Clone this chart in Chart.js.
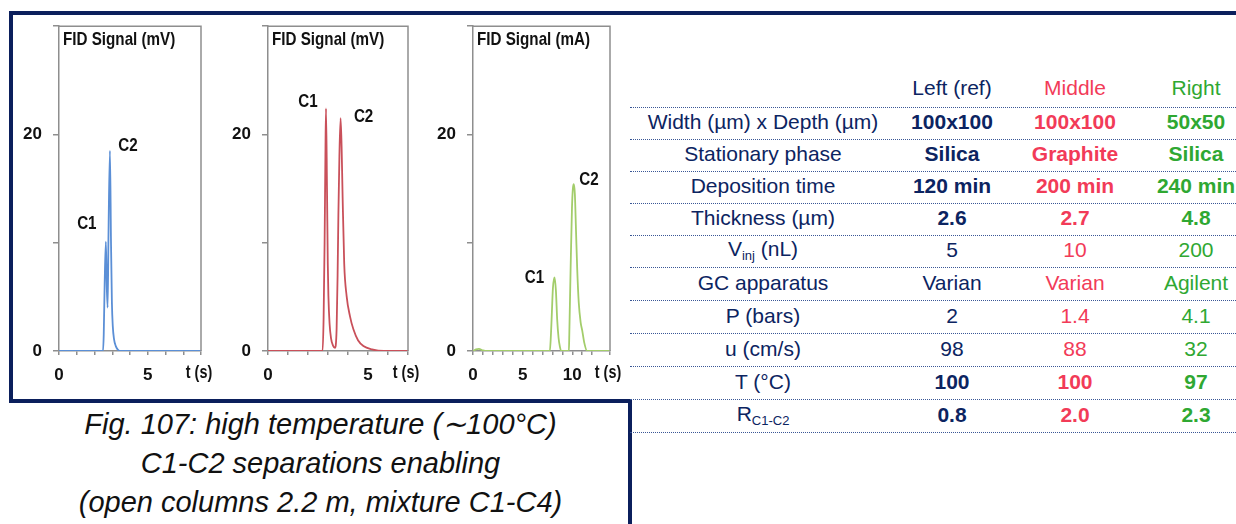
<!DOCTYPE html>
<html lang="en">
<head>
  <meta charset="UTF-8">
  <title>High temperature C1-C2 separations</title>
  <script src="https://cdn.jsdelivr.net/npm/chart.js"></script>
  <style>
    * { margin: 0; padding: 0; box-sizing: border-box; }

    body {
      width: 1236px;
      height: 524px;
      overflow: hidden;
      position: relative;
      background: #ffffff;
      font-family: Arial, 'Liberation Sans', sans-serif;
    }

    /* navy slide frame */
    .bar { position: absolute; background: #0b1f5c; }
    .bar.top    { left: 9px;   top: 11px;  width: 1227px; height: 4px; }
    .bar.left   { left: 9px;   top: 11px;  width: 4px;    height: 392px; }
    .bar.bottom { left: 9px;   top: 399px; width: 623px;  height: 4px; }
    .bar.right  { left: 628px; top: 399px; width: 4px;    height: 125px; }

    canvas { position: absolute; }

    /* parameter table */
    #table {
      position: absolute;
      left: 630px;
      top: 72px;
      width: 620px;
      font-size: 21px;
      color: #0c2461;
    }
    .row {
      display: flex;
      align-items: center;
      border-bottom: 1px dotted #3a5796;
    }
    .cell { text-align: center; white-space: nowrap; padding-bottom: 3px; }
    .c0 { width: 266px; }
    .c1 { width: 112px; }
    .c2 { width: 134px; }
    .c3 { width: 108px; }
    .bold { font-weight: bold; }
    .navy { color: #0c2461; }
    .red { color: #f23b58; }
    .green { color: #2fa832; }
    sub { font-size: 13px; vertical-align: -4px; }

    #caption {
      position: absolute;
      left: 13px;
      top: 405px;
      width: 615px;
      text-align: center;
      font-style: italic;
      font-size: 29px;
      line-height: 39px;
      color: #111111;
    }
  </style>
</head>
<body>

  <div class="bar top"></div>
  <div class="bar left"></div>
  <div class="bar bottom"></div>
  <div class="bar right"></div>

  <canvas id="leftChart" width="205" height="390" style="left:12px; top:5px;"></canvas>
  <canvas id="middleChart" width="204" height="390" style="left:221px; top:5px;"></canvas>
  <canvas id="rightChart" width="200" height="390" style="left:426px; top:5px;"></canvas>

  <div id="table"></div>

  <div id="caption">
    Fig. 107: high temperature (∼100°C)<br>
    C1-C2 separations enabling<br>
    (open columns 2.2 m, mixture C1-C4)
  </div>

  <script>
    // Left (ref) chromatogram: time (s) / FID signal (mV)
    const leftTime   = [0, 1, 2, 2.48, 2.52, 2.57, 2.64, 2.69, 2.74, 2.79, 2.87, 2.93, 2.98, 3.03, 3.1, 3.2, 3.3, 3.42, 5, 8];
    const leftSignal = [0, 0, 0, 0, 1.5, 6, 10.1, 6, 4.0, 11, 18.5, 10, 4.5, 2.3, 1.1, 0.45, 0.15, 0, 0, 0];

    // Middle chromatogram: time (s) / FID signal (mV)
    const middleTime   = [0, 1, 2, 2.73, 2.78, 2.83, 2.87, 2.9, 2.95, 2.99, 3.02, 3.08, 3.15, 3.25, 3.35, 3.43, 3.48, 3.52, 3.57, 3.63,
                          3.68, 3.73, 3.81, 3.93, 4.1, 4.27, 4.5, 4.77, 5.2, 5.8, 7];
    const middleSignal = [0, 0, 0, 0, 3, 10, 18, 22.4, 15, 8, 5.1, 2.5, 1.2, 0.5, 0.3, 2, 7, 12.7, 18, 21.5,
                          18.9, 14.3, 8.1, 5.1, 3.2, 2.0, 1.0, 0.46, 0.15, 0, 0];

    // Right chromatogram: time (s) / FID signal (mA)
    const rightTime   = [0, 0.3, 0.6, 1.0, 1.5, 4, 7.74, 7.85, 7.93, 8.05, 8.21, 8.35, 8.48, 8.62, 8.75, 8.88, 9.66, 9.7, 9.83, 9.97,
                         10.06, 10.16, 10.26, 10.38, 10.5, 10.65, 10.85, 11.0, 11.2, 11.5, 13.8];
    const rightSignal = [0, 0.15, 0.2, 0.05, 0, 0, 0, 1.5, 3.2, 5.8, 6.8, 5.6, 2.9, 1.2, 0.4, 0, 0, 1.5, 7.5, 13.2,
                         15, 15.4, 14.5, 11, 7.5, 4.5, 2.6, 1.9, 0.8, 0, 0];

    // peak labels: [name, time, signal]
    const leftPeaks   = [['C1', 2.64, 10.1], ['C2', 2.87, 18.5]];
    const middlePeaks = [['C1', 2.9, 22.4], ['C2', 3.63, 21.5]];
    const rightPeaks  = [['C1', 8.21, 6.8], ['C2', 10.16, 15.4]];

    const xMaxes = [8, 7, 13.8];
    const yTicksShown = [0, 20];
    const xTicksShown = [0, 5, 10];

    // table content
    const columnHeads = ['Left (ref)', 'Middle', 'Right'];
    const rowLabels = ['Width (µm) x Depth (µm)', 'Stationary phase', 'Deposition time', 'Thickness (µm)',
                       'V<sub>inj</sub> (nL)', 'GC apparatus', 'P (bars)', 'u (cm/s)', 'T (°C)', 'R<sub>C1-C2</sub>'];
    const leftValues   = ['100x100', 'Silica', '120 min', '2.6', '5', 'Varian', '2', '98', '100', '0.8'];
    const middleValues = ['100x100', 'Graphite', '200 min', '2.7', '10', 'Varian', '1.4', '88', '100', '2.0'];
    const rightValues  = ['50x50', 'Silica', '240 min', '4.8', '200', 'Agilent', '4.1', '32', '97', '2.3'];
    const boldRows = [true, true, true, true, false, false, false, false, true, true];

    const chartFont = "'Liberation Sans', Arial, sans-serif";
    const axisGray = '#8e8e8e';

    // narrow bold text (the originals use a condensed face)
    function narrowText(ctx, text, x, y, size, align) {
      ctx.save();
      ctx.font = 'bold ' + size + 'px ' + chartFont;
      ctx.textAlign = align;
      ctx.textBaseline = 'middle';
      ctx.translate(x, y);
      ctx.scale(0.8, 1);
      ctx.fillText(text, 0, 0);
      ctx.restore();
    }

    // draws box, title, "t (s)" and peak names
    const decorPlugin = {
      id: 'decor',
      afterDraw(chart, args, opts) {
        const { ctx, chartArea: a, scales } = chart;
        ctx.save();
        ctx.strokeStyle = axisGray;
        ctx.lineWidth = 1.5;
        ctx.beginPath();
        ctx.moveTo(a.left, a.top);
        ctx.lineTo(a.right, a.top);
        ctx.lineTo(a.right, a.bottom);
        ctx.stroke();
        ctx.fillStyle = '#111';

        narrowText(ctx, opts.title, a.left + 4, a.top + 14, 19, 'left');
        narrowText(ctx, 't (s)', a.right - 2, a.bottom + 22, 18, 'center');
        opts.peaks.forEach(([name, t, v], i) => {
          const off = opts.offsets[i];
          narrowText(ctx, name, scales.x.getPixelForValue(t) + off[0], scales.y.getPixelForValue(v) + off[1], 19, 'center');
        });
        ctx.restore();
      }
    };

    function drawChromatogram(id, times, signals, color, xMax, title, peaks, offsets, padRight) {
      const points = times.map((t, i) => ({ x: t, y: signals[i] }));
      const tickFont = { family: chartFont, size: 17, weight: 'bold' };
      return new Chart(document.getElementById(id), {
        type: 'line',
        data: {
          datasets: [{
            data: points,
            borderColor: color,
            borderWidth: 1.8,
            pointRadius: 0,
            fill: false,
            cubicInterpolationMode: 'monotone'
          }]
        },
        options: {
          responsive: false,
          animation: false,
          layout: { padding: { top: 0, right: padRight, left: 0, bottom: 0 } },
          plugins: {
            legend: { display: false },
            tooltip: { enabled: false },
            decor: { title: title, peaks: peaks, offsets: offsets }
          },
          scales: {
            x: {
              type: 'linear',
              min: 0,
              max: xMax,
              afterFit: s => { s.height = 44; },
              ticks: {
                stepSize: 1,
                autoSkip: false,
                maxRotation: 0,
                padding: 10,
                color: '#111',
                font: tickFont,
                callback: v => xTicksShown.includes(v) ? String(v) : ''
              },
              grid: { drawOnChartArea: false, tickLength: 4, color: axisGray, lineWidth: 1.5 },
              border: { color: axisGray, width: 1.5 }
            },
            y: {
              min: 0,
              max: 30,
              afterFit: s => { s.width = 47; },
              ticks: {
                stepSize: 10,
                padding: 11,
                color: '#111',
                font: tickFont,
                callback: v => yTicksShown.includes(v) ? String(v) : ''
              },
              grid: { drawOnChartArea: false, tickLength: 6, color: axisGray, lineWidth: 1.5 },
              border: { color: axisGray, width: 1.5 }
            }
          }
        },
        plugins: [decorPlugin]
      });
    }

    drawChromatogram('leftChart', leftTime, leftSignal, '#5b8fd6', xMaxes[0], 'FID Signal (mV)',
      leftPeaks, [[-19, -18], [18, -5]], 16);
    drawChromatogram('middleChart', middleTime, middleSignal, '#c9505a', xMaxes[1], 'FID Signal (mV)',
      middlePeaks, [[-18, -7], [23, -1]], 17);
    drawChromatogram('rightChart', rightTime, rightSignal, '#a3cd6b', xMaxes[2], 'FID Signal (mA)',
      rightPeaks, [[-20, 0], [15, -5]], 16);

    // parameter table
    const table = document.getElementById('table');
    const headRow = document.createElement('div');
    headRow.className = 'row';
    headRow.style.height = '36px';
    headRow.innerHTML = '<div class="cell c0"></div>' +
      '<div class="cell c1 navy">' + columnHeads[0] + '</div>' +
      '<div class="cell c2 red">' + columnHeads[1] + '</div>' +
      '<div class="cell c3 green">' + columnHeads[2] + '</div>';
    table.appendChild(headRow);

    rowLabels.forEach((label, i) => {
      const row = document.createElement('div');
      row.className = 'row';
      row.style.height = (i < 5 ? 32 : 33) + 'px';
      const b = boldRows[i] ? ' bold' : '';
      row.innerHTML = '<div class="cell c0 navy">' + label + '</div>' +
        '<div class="cell c1 navy' + b + '">' + leftValues[i] + '</div>' +
        '<div class="cell c2 red' + b + '">' + middleValues[i] + '</div>' +
        '<div class="cell c3 green' + b + '">' + rightValues[i] + '</div>';
      table.appendChild(row);
    });
  </script>

</body>
</html>
